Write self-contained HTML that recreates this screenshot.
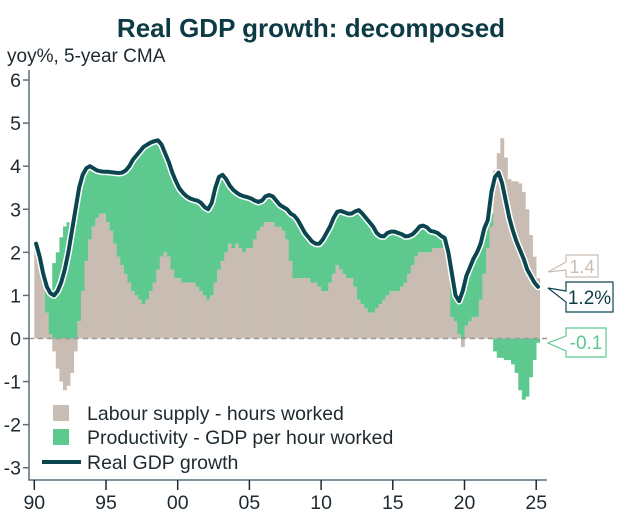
<!DOCTYPE html>
<html><head><meta charset="utf-8"><style>
html,body{margin:0;padding:0;background:#fff;}
svg{display:block;font-family:"Liberation Sans",sans-serif;}
</style></head><body>
<svg id="chart" width="622" height="520" viewBox="0 0 622 520">
<text x="311" y="37" text-anchor="middle" font-size="26" font-weight="bold" fill="#0d3b45">Real GDP growth: decomposed</text>
<text x="7" y="62" font-size="19" fill="#1e2a30">yoy%, 5-year CMA</text>
<g id="bars"></g>
<line x1="29" y1="338.5" x2="548" y2="338.5" stroke="#999" stroke-width="1.5" stroke-dasharray="5,4"/>
<g id="lines"></g>
<g id="axes"></g>
<g>
<rect x="53" y="405" width="16" height="16" fill="#c9bdb3"/>
<text x="87" y="420" font-size="19.5" fill="#1e2a30">Labour supply - hours worked</text>
<rect x="53" y="429" width="16" height="16" fill="#5dc98f"/>
<text x="87" y="444" font-size="19.5" fill="#1e2a30">Productivity - GDP per hour worked</text>
<line x1="42" y1="462" x2="81" y2="462" stroke="#0b4650" stroke-width="4"/>
<text x="87" y="469" font-size="19.5" fill="#1e2a30">Real GDP growth</text>
</g>
<g>
<path d="M566,255 H598 V277 H566 V270 L548,272 L566,262 Z" fill="#fff" stroke="#c9bdb3" stroke-width="1.2"/>
<text x="582" y="273" text-anchor="middle" font-size="18" fill="#c9bdb3">1.4</text>
</g>
<g>
<path d="M566,282 H613 V312 H566 V302 L548,288 L566,291 Z" fill="#fff" stroke="#0b4650" stroke-width="1.2"/>
<text x="589.5" y="304" text-anchor="middle" font-size="19" fill="#0d3b45">1.2%</text>
</g>
<g>
<path d="M566,328 H606 V357 H566 V351 L548,343 L566,336 Z" fill="#fff" stroke="#5dc98f" stroke-width="1.2"/>
<text x="586" y="349" text-anchor="middle" font-size="19" fill="#5dc98f">-0.1</text>
</g>
</svg>
<script>
const startYear = 1990;
const labour = [
2.0,1.9,1.3,0.6, 0.1,-0.3,-0.7,-1.0, -1.2,-1.1,-0.8,-0.3, 0.4,1.1,1.8,2.3,
2.6,2.8,2.9,2.9, 2.7,2.5,2.2,1.9, 1.7,1.5,1.3,1.1, 1.0,0.9,0.8,0.9,
1.1,1.3,1.6,1.9, 2.0,1.9,1.6,1.4, 1.4,1.3,1.3,1.3, 1.3,1.2,1.1,1.0,
0.9,1.0,1.3,1.6, 1.8,2.0,2.2,2.1, 2.2,2.1,2.0,2.1, 2.1,2.3,2.5,2.6,
2.7,2.7,2.7,2.6, 2.6,2.5,2.3,1.8, 1.4,1.4,1.4,1.4, 1.4,1.3,1.3,1.2,
1.1,1.1,1.3,1.5, 1.7,1.6,1.5,1.4, 1.4,1.2,0.9,0.8, 0.7,0.6,0.6,0.7,
0.8,0.9,1.0,1.1, 1.1,1.1,1.2,1.3, 1.5,1.7,1.9,2.0, 2.0,2.0,2.0,2.1,
2.1,2.1,2.2,1.9, 0.5,0.4,0.1,-0.2, 0.3,0.4,0.5,0.5, 0.9,1.5,2.1,2.6,
3.9,4.3,4.65,4.2, 3.7,3.65,3.65,3.6, 3.4,3.0,2.4,1.9, 1.4];
const productivity = [
0.2,0.0,0.2,0.6, 0.9,1.75,2.0,2.35, 2.6,2.7,2.75,2.9, 3.1,2.7,2.15,1.7,
1.35,1.1,0.98,0.97, 1.17,1.36,1.65,1.94, 2.15,2.4,2.7,3.05, 3.25,3.45,3.65,3.6,
3.45,3.28,3.0,2.6, 2.3,2.2,2.25,2.25, 2.08,2.08,2.0,1.95, 1.92,2.0,2.05,2.05,
2.1,2.15,2.2,2.15, 2.0,1.7,1.35,1.35, 1.18,1.23,1.3,1.18, 1.15,0.9,0.67,0.6,
0.6,0.63,0.6,0.6, 0.5,0.55,0.7,1.1, 1.45,1.35,1.2,1.05, 0.95,0.95,0.9,1.0,
1.2,1.35,1.3,1.3, 1.24,1.36,1.43,1.5, 1.5,1.75,2.08,2.1, 2.1,2.1,2.0,1.75,
1.58,1.47,1.45,1.38, 1.38,1.35,1.22,1.07, 0.88,0.72,0.6,0.6, 0.62,0.58,0.5,0.38,
0.35,0.28,0.13,0.1, 1.0,0.6,0.77,1.3, 1.15,1.25,1.35,1.5, 1.3,1.05,0.6,0.3,
-0.3,-0.45,-0.45,-0.5, -0.5,-0.6,-0.8,-1.2, -1.42,-1.35,-0.9,-0.5, -0.1];
const gdp = [
2.2,1.9,1.5,1.2, 1.05,1.0,1.1,1.3, 1.6,2.0,2.5,3.0, 3.5,3.8,3.95,4.0,
3.95,3.9,3.88,3.87, 3.87,3.86,3.85,3.84, 3.85,3.9,4.0,4.15, 4.25,4.35,4.45,4.5,
4.55,4.58,4.6,4.5, 4.3,4.1,3.85,3.65, 3.48,3.38,3.3,3.25, 3.22,3.2,3.15,3.05,
3.0,3.15,3.5,3.75, 3.8,3.7,3.55,3.45, 3.38,3.33,3.3,3.28, 3.25,3.2,3.17,3.2,
3.3,3.33,3.3,3.2, 3.1,3.05,3.0,2.9, 2.85,2.75,2.6,2.45, 2.35,2.25,2.2,2.2,
2.3,2.45,2.6,2.8, 2.94,2.96,2.93,2.9, 2.9,2.95,2.98,2.9, 2.8,2.7,2.6,2.45,
2.38,2.37,2.45,2.48, 2.48,2.45,2.42,2.37, 2.38,2.42,2.5,2.6, 2.62,2.58,2.5,2.48,
2.45,2.38,2.33,2.0, 1.5,1.0,0.87,1.1, 1.45,1.65,1.85,2.0, 2.2,2.55,2.75,3.4,
3.75,3.85,3.6,3.2, 2.8,2.5,2.25,2.05, 1.85,1.6,1.45,1.3, 1.2];
const yTicks = [6,5,4,3,2,1,0,-1,-2,-3];
const xTickYears = [1990,1995,2000,2005,2010,2015,2020,2025];
const xTickLabels = ["90","95","00","05","10","15","20","25"];

const NS = "http://www.w3.org/2000/svg";
function xs(yr){ return 34.3 + (yr - 1990) * 14.34; }
function ys(v){ return 338.5 - v * 43.08; }
function mk(tag, attrs, parent){ const e=document.createElementNS(NS,tag); for(const k in attrs) e.setAttribute(k,attrs[k]); parent.appendChild(e); return e; }

const bars = document.getElementById('bars');
const bw = 14.34/4;
for (let i=0;i<labour.length;i++){
  const yr = startYear + i/4;
  const x0 = xs(yr), L = labour[i], P = productivity[i];
  const lb = mk('rect',{x:x0,width:bw+0.3,y:Math.min(ys(L),ys(0)),height:Math.abs(ys(L)-ys(0)),fill:'#c9bdb3'},bars);
  
  
  let base = 0;
  if (P >= 0 && L > 0) base = L;
  if (P < 0 && L < 0) base = L;
  const top = base + P;
  const pb = mk('rect',{x:x0,width:bw+0.3,y:Math.min(ys(top),ys(base)),height:Math.abs(ys(top)-ys(base)),fill:'#5dc98f'},bars);
  
  
}
const lines = document.getElementById('lines');
let d = "";
gdp.forEach((v,i)=>{ const x = xs(startYear + i/4 + 0.125); d += (i? "L":"M") + x.toFixed(2) + "," + ys(v).toFixed(2); });
const halo = mk('path',{d:d,fill:'none',stroke:'#fff',"stroke-width":7,"stroke-linejoin":"round","stroke-linecap":"round"},lines);


const gl = mk('path',{d:d,fill:'none',stroke:'#0b4650',"stroke-width":4,"stroke-linejoin":"round","stroke-linecap":"round"},lines);



const axes = document.getElementById('axes');
const ya = mk('line',{x1:29,y1:70,x2:29,y2:480,stroke:'#5a6f78',"stroke-width":1.5},axes);


const xa = mk('line',{x1:28.3,y1:480,x2:547,y2:480,stroke:'#5a6f78',"stroke-width":1.5},axes);


yTicks.forEach(t=>{
  const y = ys(t);
  const tk = mk('line',{x1:23,y1:y,x2:29,y2:y,stroke:'#5a6f78',"stroke-width":1.5},axes);
  
  
  const tx = mk('text',{x:21,y:y+7,"text-anchor":"end","font-size":19.5,fill:'#1e2a30'},axes);
  tx.textContent = String(t);
  
  
});
xTickYears.forEach((yr,i)=>{
  const x = xs(yr);
  const tk = mk('line',{x1:x,y1:480,x2:x,y2:490,stroke:'#1e2a30',"stroke-width":1.5},axes);
  
  
  const tx = mk('text',{x:x,y:509,"text-anchor":"middle","font-size":19.5,fill:'#1e2a30'},axes);
  tx.textContent = xTickLabels[i];
  
  
});
</script>
</body></html>
